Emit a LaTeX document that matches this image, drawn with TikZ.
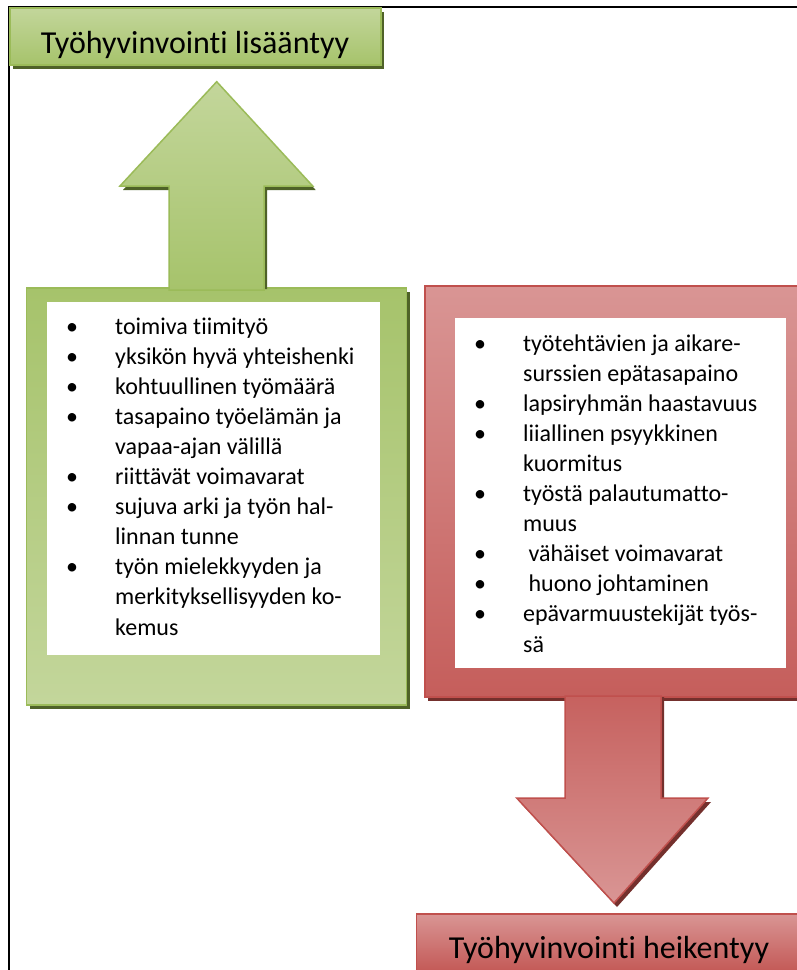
\documentclass[tikz,border=0pt]{standalone}
\usepackage{fontspec}
\setmainfont[Ligatures=NoCommon]{Carlito}
\definecolor{gLight}{HTML}{C3D69B}
\definecolor{gMid}{HTML}{9BBB59}
\definecolor{gTop}{HTML}{A6C36B}
\definecolor{gShadow}{HTML}{4F6228}
\definecolor{rLight}{HTML}{D99594}
\definecolor{rMid}{HTML}{C0504D}
\definecolor{rShadow}{HTML}{74302D}
\tikzset{
  gbox/.style={draw=gMid, line width=1.5pt, top color=gTop, middle color=gMid, bottom color=gLight},
  gtitlebox/.style={draw=gMid, line width=1.5pt, top color=gLight, middle color=gMid, bottom color=gTop},
  garrow/.style={draw=gMid, line width=1.5pt, top color=gLight, bottom color=gTop},
  rbox/.style={draw=rMid, line width=1.5pt, top color=rLight, bottom color=rMid!92!white},
  rtitlebox/.style={draw=rMid, line width=1.5pt, top color=rLight, bottom color=rMid},
  rarrow/.style={draw=rMid, line width=1.5pt, top color=rMid!90!white, bottom color=rLight},
  whitebox/.style={fill=white, draw=none},
  listtext/.style={anchor=base west, inner sep=0pt, font=\fontsize{24}{30.1}\selectfont},
  titletext/.style={anchor=base, inner sep=0pt, font=\fontsize{32}{38}\selectfont},
}
\newcommand{\bul}{\makebox[0pt]{\textbullet}}
\begin{document}
\begin{tikzpicture}[x=1pt,y=-1pt]
\useasboundingbox (0,0) rectangle (797,970);
\clip (0,0) rectangle (797,970);
\fill[white] (0,0) rectangle (797,970);

% page frame
\draw[line width=2pt] (9,990) -- (9,7) -- (820,7);

% green title
\fill[gShadow] (13,12) rectangle (384,69);
\path[gtitlebox] (10,8) rectangle (381,65);
\coordinate (gtitle) at (195.5,36.5);
\node[titletext] (gtitletext) at (195,53) {Työhyvinvointi lisääntyy};

% green list box
\fill[gShadow] (29.7,292) rectangle (409.7,709);
\path[gbox] (26.7,288) rectangle (406.7,705);
\path[whitebox] (47,302) rectangle (380,655);
\node[listtext] (glist) at (72,334) {%
\begin{tabular}[t]{@{}c@{\hspace{43pt}}l@{}}
\bul & toimiva tiimityö\\
\bul & yksikön hyvä yhteishenki\\
\bul & kohtuullinen työmäärä\\
\bul & tasapaino työelämän ja\\
     & vapaa-ajan välillä\\
\bul & riittävät voimavarat\\
\bul & sujuva arki ja työn hal-\\
     & linnan tunne\\
\bul & työn mielekkyyden ja\\
     & merkityksellisyyden ko-\\
     & kemus
\end{tabular}};

% green arrow up
\fill[gShadow] (172,289) -- (172,190) -- (123,190) -- (219.7,85.7) -- (315.7,190) -- (267,190) -- (267,289) -- cycle;
\path[garrow] (169,290) -- (169,186) -- (120,186) -- (216.7,81.7) -- (312.7,186) -- (264,186) -- (264,290) -- cycle;

% red list box
\fill[rShadow] (428,290) rectangle (820,701);
\path[rbox] (425,286) rectangle (815,697);
\path[whitebox] (455,318) rectangle (786,668);
\node[listtext] (rlist) at (480,351) {%
\begin{tabular}[t]{@{}c@{\hspace{43pt}}l@{}}
\bul & työtehtävien ja aikare-\\
     & surssien epätasapaino\\
\bul & lapsiryhmän haastavuus\\
\bul & liiallinen psyykkinen\\
     & kuormitus\\
\bul & työstä palautumatto-\\
     & muus\\
\bul & \ vähäiset voimavarat\\
\bul & \ huono johtaminen\\
\bul & epävarmuustekijät työs-\\
     & sä
\end{tabular}};

% red arrow down
\fill[rShadow] (568,697) -- (568,802) -- (519.7,802) -- (617,907) -- (711,802) -- (664,802) -- (664,697) -- cycle;
\path[rarrow] (565,696) -- (565,798) -- (516.7,798) -- (614,903) -- (708,798) -- (661,798) -- (661,696) -- cycle;

% red title
\fill[rShadow] (419.7,918) rectangle (820,1000);
\path[rtitlebox] (416.7,914) rectangle (815,980);
\node[titletext] (rtitletext) at (609,958) {Työhyvinvointi heikentyy};
\end{tikzpicture}
\end{document}
